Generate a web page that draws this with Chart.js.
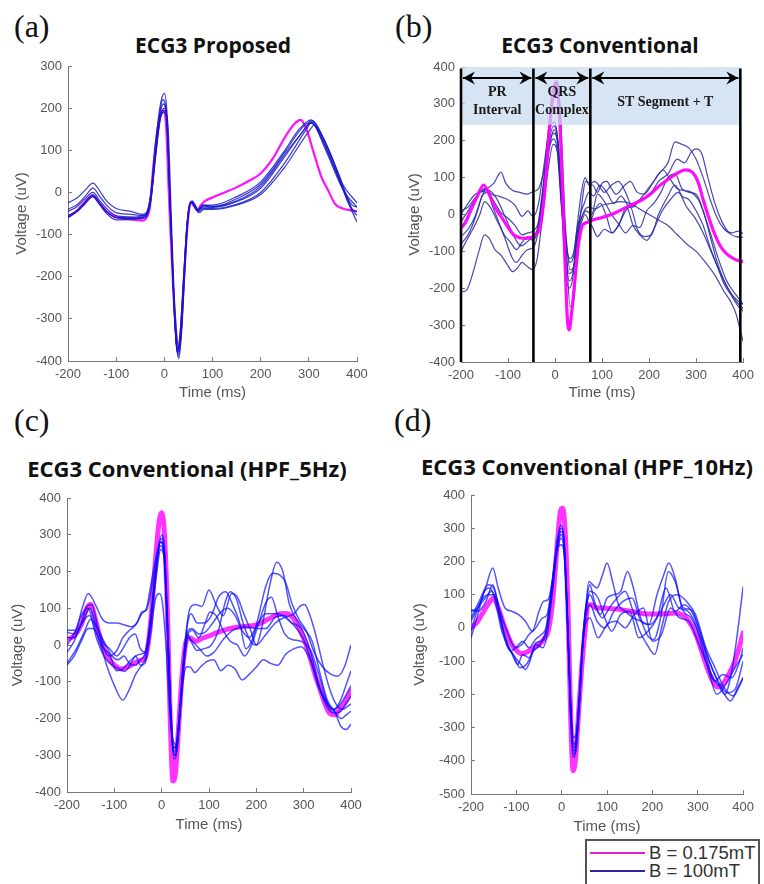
<!DOCTYPE html>
<html>
<head>
<meta charset="utf-8">
<script src="https://cdn.jsdelivr.net/npm/chart.js@4.4.1/dist/chart.umd.min.js"></script>
<style>
  html,body{margin:0;padding:0;background:#fff;}
  #wrap{position:relative;width:764px;height:884px;overflow:hidden;background:#fff;}
  canvas{position:absolute;}
  .plabel{position:absolute;font-family:"Liberation Serif","Times New Roman",serif;font-size:32px;line-height:32px;color:#111;white-space:nowrap;}
  .ttl{position:absolute;width:420px;text-align:center;font-family:"Open Sans",sans-serif;font-weight:700;font-size:21px;line-height:28px;color:#111;white-space:nowrap;}
  .ttl.big{font-size:22px;}
  .lgline{position:absolute;height:2px;}
  .lgtext{position:absolute;font-family:"Liberation Sans",Arial,sans-serif;font-size:18.5px;line-height:20px;color:#333;white-space:nowrap;}
</style>
</head>
<body>
<div id="wrap">
  <div class="plabel" style="left:14px;top:10px;">(a)</div>
  <div class="plabel" style="left:395px;top:10px;">(b)</div>
  <div class="plabel" style="left:14px;top:404px;">(c)</div>
  <div class="plabel" style="left:394px;top:404px;">(d)</div>

  <div class="ttl" style="left:3px;top:31px;">ECG3 Proposed</div>
  <div class="ttl" style="left:390px;top:31px;">ECG3 Conventional</div>
  <div class="ttl big" style="left:-23px;top:454px;">ECG3 Conventional (HPF_5Hz)</div>
  <div class="ttl big" style="left:377px;top:452px;">ECG3 Conventional (HPF_10Hz)</div>

  <canvas id="cA" width="382" height="404" style="left:0;top:0;"></canvas>
  <canvas id="cB" width="382" height="404" style="left:382px;top:0;"></canvas>
  <canvas id="cC" width="382" height="440" style="left:0;top:400px;"></canvas>
  <canvas id="cD" width="382" height="440" style="left:382px;top:400px;"></canvas>

  <div style="position:absolute;left:585px;top:839px;width:175px;height:60px;border:2px solid #555;background:#fff;box-sizing:border-box;"></div>
  <div class="lgline" style="left:590px;top:852px;width:55px;background:#dd22dd;"></div>
  <div class="lgline" style="left:590px;top:870px;width:55px;background:#2a2aa0;"></div>
  <div class="lgtext" style="left:649px;top:843px;">B = 0.175mT</div>
  <div class="lgtext" style="left:649px;top:861px;">B = 100mT</div>
</div>

<script>
// ---------------- tick labels ----------------
const xTicks  = [-200, -100, 0, 100, 200, 300, 400];
const yTicksA = [-400, -300, -200, -100, 0, 100, 200, 300];
const yTicksB = [-400, -300, -200, -100, 0, 100, 200, 300, 400];
const yTicksC = [-400, -300, -200, -100, 0, 100, 200, 300, 400];
const yTicksD = [-500, -400, -300, -200, -100, 0, 100, 200, 300, 400];

// ---------------- (a) ECG3 Proposed : [time ms, voltage uV] ----------------
const aMagenta = [[-200,-58],[-180,-42],[-165,-22],[-150,-8],[-135,-25],[-120,-45],[-100,-58],[-80,-63],[-60,-65],[-45,-67],[-38,-62],[-30,-35],[-23,60],[-12,165],[-3,195],[3,170],[10,-20],[16,-170],[22,-300],[28,-378],[34,-330],[40,-220],[46,-110],[52,-35],[56,-25],[62,-33],[68,-42],[76,-30],[85,-20],[100,-12],[125,0],[150,12],[175,27],[200,45],[225,80],[250,130],[268,160],[283,172],[295,150],[310,95],[325,40],[340,5],[355,-28],[370,-38],[385,-42],[400,-45]];
const aBlue1 = [[-200,-25],[-180,-12],[-165,5],[-148,22],[-135,5],[-120,-20],[-100,-38],[-70,-45],[-45,-52],[-36,-45],[-28,0],[-18,120],[-8,210],[0,235],[6,180],[12,-20],[18,-200],[24,-340],[30,-395],[36,-330],[42,-200],[48,-80],[54,-25],[58,-20],[64,-30],[70,-40],[80,-30],[100,-30],[150,-10],[200,25],[250,100],[280,150],[305,172],[320,150],[345,90],[370,20],[400,-25]];
const aBlue2 = [[-200,-40],[-180,-28],[-165,-10],[-148,10],[-135,-8],[-120,-30],[-100,-48],[-70,-52],[-45,-55],[-36,-48],[-28,-5],[-18,110],[-8,200],[-3,220],[4,190],[11,0],[17,-180],[23,-330],[28,-385],[34,-340],[40,-210],[47,-80],[53,-28],[57,-22],[63,-32],[70,-42],[80,-32],[100,-35],[150,-15],[200,20],[250,95],[280,145],[300,165],[312,160],[345,80],[375,0],[400,-35]];
const aBlue3 = [[-200,-45],[-180,-33],[-165,-15],[-148,0],[-135,-18],[-120,-38],[-100,-55],[-70,-58],[-45,-60],[-36,-52],[-28,-15],[-18,100],[-8,190],[-2,210],[5,175],[12,-20],[18,-200],[24,-340],[29,-390],[35,-335],[41,-200],[48,-70],[54,-25],[58,-22],[64,-32],[70,-44],[80,-35],[100,-35],[150,-22],[200,10],[250,85],[295,155],[305,165],[330,120],[360,40],[390,-40],[400,-45]];
const aBlue4 = [[-200,-55],[-180,-42],[-165,-25],[-148,-8],[-135,-25],[-120,-45],[-100,-60],[-70,-62],[-45,-62],[-36,-55],[-28,-20],[-18,90],[-8,180],[0,200],[6,160],[12,-30],[18,-220],[23,-330],[27,-380],[33,-340],[40,-210],[47,-80],[53,-28],[57,-24],[63,-35],[70,-46],[80,-38],[100,-38],[150,-28],[200,0],[250,70],[295,150],[308,170],[330,130],[360,50],[390,-40],[400,-55]];
const aBlue5 = [[-200,-60],[-180,-45],[-165,-28],[-148,-10],[-135,-28],[-120,-50],[-100,-65],[-70,-64],[-45,-58],[-36,-50],[-28,-18],[-18,85],[-8,175],[2,195],[8,150],[14,-40],[20,-230],[26,-340],[30,-370],[36,-320],[42,-190],[49,-60],[55,-25],[59,-24],[65,-35],[72,-48],[82,-40],[100,-40],[150,-30],[200,-5],[250,60],[300,145],[312,160],[325,140],[355,60],[380,-20],[400,-70]];
const aBlue6 = [[-200,-58],[-180,-43],[-165,-24],[-148,-5],[-135,-24],[-120,-45],[-100,-60],[-70,-60],[-45,-55],[-36,-48],[-28,-12],[-18,95],[-8,180],[0,190],[6,150],[12,-30],[18,-210],[23,-330],[27,-375],[33,-330],[40,-200],[47,-75],[53,-26],[57,-22],[63,-32],[70,-42],[80,-30],[100,-33],[150,-20],[200,15],[250,90],[297,160],[303,170],[335,100],[365,20],[390,-30],[400,-35]];
const aBlues = [aBlue1, aBlue2, aBlue3, aBlue4, aBlue5, aBlue6];

// ---------------- (b) ECG3 Conventional ----------------
const bMagenta = [[-200,-37],[-190,-20],[-178,15],[-165,50],[-152,80],[-140,55],[-128,20],[-115,-5],[-100,-35],[-88,-55],[-75,-63],[-62,-65],[-50,-62],[-40,-55],[-32,-35],[-22,60],[-12,230],[-3,340],[3,360],[9,280],[15,100],[21,-120],[26,-280],[30,-313],[35,-270],[42,-180],[50,-80],[58,-30],[68,-22],[80,-15],[100,-8],[120,0],[140,12],[162,26],[185,40],[204,57],[222,78],[240,95],[260,112],[277,121],[294,112],[305,85],[315,40],[326,-5],[336,-42],[347,-75],[357,-96],[370,-112],[385,-123],[400,-128]];
const bBlue1 = [[-200,10],[-185,20],[-170,45],[-160,60],[-145,70],[-130,85],[-115,115],[-105,85],[-90,65],[-75,60],[-60,55],[-47,62],[-35,70],[-25,110],[-12,190],[-2,230],[6,180],[14,40],[22,-60],[32,-130],[40,-110],[48,-20],[56,60],[64,100],[72,80],[80,80],[90,60],[100,85],[110,90],[120,70],[130,55],[145,75],[160,90],[175,60],[190,55],[205,80],[220,110],[240,140],[255,197],[270,190],[285,180],[300,150],[315,100],[330,40],[345,-10],[360,-40],[375,-50],[390,-45],[400,-52]];
const bBlue2 = [[-200,-20],[-185,10],[-170,40],[-158,65],[-148,70],[-135,55],[-120,50],[-100,40],[-85,25],[-70,-5],[-58,10],[-47,-5],[-35,30],[-25,120],[-12,230],[-2,250],[6,200],[14,20],[22,-150],[30,-200],[38,-170],[46,-60],[54,0],[62,30],[72,60],[82,50],[95,80],[110,60],[125,30],[140,50],[160,20],[180,40],[200,50],[220,90],[240,110],[260,150],[275,140],[290,170],[300,178],[312,165],[325,100],[340,30],[355,-20],[370,-50],[385,-60],[400,-62]];
const bBlue3 = [[-200,-60],[-185,-40],[-170,-5],[-155,50],[-145,60],[-130,35],[-115,5],[-100,-10],[-85,-30],[-70,-55],[-58,-50],[-47,-45],[-35,-20],[-25,60],[-12,180],[-3,205],[5,170],[13,30],[22,-80],[32,-120],[40,-100],[48,-30],[56,-10],[66,10],[78,0],[90,55],[105,35],[120,0],[135,-25],[150,-50],[165,-30],[180,-35],[195,10],[210,30],[225,60],[240,100],[255,110],[270,70],[285,60],[300,55],[315,10],[330,-60],[345,-130],[360,-180],[375,-215],[390,-235],[400,-242]];
const bBlue4 = [[-200,-80],[-185,-55],[-170,-10],[-155,50],[-146,72],[-135,30],[-120,-20],[-105,-70],[-92,-115],[-82,-130],[-70,-110],[-58,-95],[-47,-90],[-38,-60],[-28,40],[-15,220],[-3,330],[5,360],[12,260],[18,80],[25,-120],[32,-250],[40,-230],[48,-100],[56,-40],[66,-20],[78,-30],[90,-60],[105,-40],[120,-50],[135,-30],[150,10],[160,20],[175,-40],[190,-60],[205,-55],[220,0],[240,50],[255,80],[270,50],[285,40],[300,10],[315,-30],[330,-90],[345,-140],[360,-190],[375,-220],[390,-250],[400,-262]];
const bBlue5 = [[-200,-210],[-188,-205],[-175,-160],[-162,-100],[-150,-55],[-140,-65],[-128,-95],[-115,-110],[-102,-135],[-90,-155],[-80,-145],[-70,-130],[-60,-140],[-48,-150],[-38,-120],[-28,-20],[-15,120],[-4,190],[5,170],[12,60],[20,-60],[30,-160],[38,-150],[46,-80],[54,-20],[62,10],[72,20],[85,15],[100,25],[120,30],[140,35],[160,30],[180,15],[200,0],[220,-15],[240,-30],[260,-55],[280,-80],[300,-100],[320,-130],[340,-165],[360,-210],[375,-240],[385,-270],[393,-310],[400,-345]];
const bBlue6 = [[-200,0],[-185,30],[-170,55],[-155,62],[-140,65],[-125,45],[-110,5],[-98,-30],[-85,-65],[-72,-85],[-60,-75],[-48,-60],[-38,-40],[-28,50],[-15,170],[-3,220],[6,200],[14,70],[22,-40],[32,-150],[40,-140],[48,-60],[56,20],[65,90],[75,85],[85,90],[95,75],[105,60],[120,80],[135,90],[150,60],[165,20],[180,40],[195,65],[210,90],[230,120],[245,95],[260,70],[275,65],[290,60],[305,40],[320,-10],[335,-70],[350,-130],[365,-180],[380,-210],[392,-230],[400,-245]];
const bBlue7 = [[-200,-100],[-188,-70],[-175,-40],[-160,0],[-150,35],[-138,20],[-122,-20],[-108,-55],[-95,-75],[-82,-95],[-70,-75],[-58,-60],[-48,-70],[-38,-50],[-28,30],[-15,180],[-3,240],[5,210],[13,50],[21,-90],[30,-180],[38,-160],[46,-70],[54,-30],[64,0],[74,-20],[84,10],[96,30],[108,0],[122,-50],[138,-20],[152,20],[166,-30],[180,-55],[195,-70],[210,-40],[228,10],[245,40],[262,60],[280,20],[298,-10],[315,-50],[335,-110],[355,-170],[372,-210],[388,-240],[400,-255]];
const bBlues = [bBlue1, bBlue2, bBlue3, bBlue4, bBlue5, bBlue6, bBlue7];
// (b) segment annotations
const bSegBounds = [-200, -46, 75, 394];
const bSegLabels = [["PR", "Interval"], ["QRS", "Complex"], ["ST Segment + T"]];

// ---------------- (c) ECG3 Conventional (HPF_5Hz) ----------------
const cMagenta = [[-200,15],[-185,25],[-170,55],[-158,100],[-150,110],[-140,70],[-128,10],[-115,-30],[-100,-55],[-85,-65],[-72,-60],[-58,-50],[-45,-42],[-35,-35],[-25,40],[-15,200],[-6,330],[0,360],[6,300],[12,100],[18,-200],[24,-370],[29,-350],[35,-240],[42,-100],[50,0],[56,20],[62,18],[72,10],[85,18],[100,25],[120,35],[145,45],[170,50],[200,55],[225,70],[250,85],[265,86],[280,70],[292,41],[304,5],[313,-32],[324,-80],[335,-122],[345,-160],[355,-186],[365,-190],[375,-178],[388,-155],[400,-125]];
const cBlue1 = [[-200,40],[-182,40],[-168,100],[-155,140],[-140,110],[-125,70],[-110,60],[-95,60],[-80,55],[-65,50],[-52,60],[-42,90],[-32,95],[-22,150],[-10,240],[0,300],[6,260],[12,80],[18,-150],[25,-290],[30,-300],[36,-230],[44,-80],[52,40],[60,100],[72,110],[85,105],[100,150],[115,110],[130,80],[148,140],[160,130],[175,80],[188,40],[200,0],[212,50],[228,160],[243,225],[256,200],[270,110],[285,70],[300,45],[318,10],[335,-80],[350,-150],[365,-180],[380,-200],[390,-190],[400,-180]];
const cBlue2 = [[-200,-55],[-185,-30],[-170,10],[-155,45],[-145,45],[-130,5],[-115,-60],[-100,-110],[-82,-150],[-68,-120],[-55,-80],[-45,-60],[-35,-40],[-25,20],[-12,130],[-4,140],[3,100],[10,-20],[17,-180],[24,-260],[30,-270],[37,-200],[45,-100],[52,-60],[60,-60],[70,-75],[82,-60],[95,-45],[110,-40],[125,-70],[140,-55],[155,-65],[170,-95],[185,-80],[200,-60],[215,-40],[230,-50],[245,-55],[262,-25],[280,-10],[295,-5],[308,-25],[320,-60],[335,-120],[350,-160],[365,-180],[378,-220],[390,-230],[400,-215]];
const cBlue3 = [[-200,20],[-185,20],[-170,60],[-158,105],[-148,110],[-135,50],[-122,-10],[-110,-30],[-95,-15],[-82,20],[-68,40],[-55,55],[-42,85],[-32,100],[-22,170],[-10,250],[-1,290],[6,250],[13,40],[20,-200],[26,-290],[32,-270],[40,-150],[48,-20],[55,60],[62,85],[75,60],[90,60],[105,80],[120,130],[135,145],[150,110],[165,60],[178,-10],[190,10],[205,80],[220,160],[235,195],[250,190],[262,170],[276,110],[290,70],[305,40],[322,-20],[340,-60],[358,-80],[372,-85],[386,-60],[400,0]];
const cBlue4 = [[-200,-20],[-185,10],[-168,60],[-152,80],[-138,20],[-122,-30],[-105,-55],[-90,-65],[-78,-72],[-65,-50],[-55,-30],[-45,-55],[-35,-50],[-25,30],[-12,200],[-2,270],[5,240],[12,40],[19,-200],[26,-300],[32,-280],[40,-160],[48,-30],[56,40],[64,45],[78,30],[92,35],[108,60],[125,90],[140,100],[155,80],[170,40],[185,20],[200,50],[220,85],[245,85],[265,70],[285,45],[300,15],[315,-40],[330,-110],[345,-150],[360,-175],[375,-165],[388,-140],[400,-110]];
const cBlue5 = [[-200,35],[-185,30],[-168,60],[-152,100],[-140,60],[-125,10],[-110,-10],[-95,-30],[-82,-10],[-68,20],[-56,30],[-45,-10],[-35,-20],[-25,60],[-12,210],[-2,280],[5,250],[12,60],[19,-180],[25,-280],[31,-270],[38,-180],[46,-40],[54,30],[62,10],[75,-15],[90,-10],[105,0],[120,40],[135,120],[145,145],[158,125],[172,60],[188,10],[200,0],[218,25],[240,60],[260,75],[280,85],[292,105],[302,110],[312,85],[325,30],[340,-50],[355,-120],[368,-160],[382,-175],[395,-165],[400,-160]];
const cBlue6 = [[-200,-50],[-180,-10],[-162,40],[-150,70],[-138,50],[-120,5],[-105,-30],[-92,-40],[-80,-30],[-68,-50],[-55,-55],[-45,-40],[-35,-25],[-25,40],[-12,180],[-2,260],[5,240],[12,50],[19,-190],[26,-310],[32,-290],[40,-170],[48,-40],[56,30],[65,40],[78,20],[92,60],[102,90],[115,80],[130,40],[145,10],[160,0],[175,-30],[190,0],[205,60],[222,120],[232,130],[245,80],[260,30],[275,15],[295,10],[315,-15],[332,-80],[348,-150],[362,-180],[378,-150],[392,-100],[400,-70]];
const cBlue7 = [[-200,0],[-185,30],[-170,80],[-156,100],[-142,50],[-125,-5],[-110,-25],[-96,-70],[-82,-65],[-68,-45],[-55,-30],[-45,-25],[-35,-20],[-25,50],[-12,210],[-2,280],[5,260],[12,60],[19,-170],[26,-280],[32,-270],[40,-160],[48,-40],[56,20],[65,10],[80,-10],[95,-30],[110,-20],[130,15],[150,40],[175,50],[200,45],[220,45],[240,75],[258,80],[275,60],[295,45],[315,-20],[332,-110],[348,-165],[363,-185],[378,-180],[392,-155],[400,-140]];
const cBlues = [cBlue1, cBlue2, cBlue3, cBlue4, cBlue5, cBlue6, cBlue7];

// ---------------- (d) ECG3 Conventional (HPF_10Hz) ----------------
const dMagenta = [[-200,0],[-185,20],[-170,55],[-158,80],[-150,90],[-140,60],[-125,0],[-110,-50],[-98,-70],[-88,-78],[-75,-72],[-62,-60],[-50,-50],[-40,-35],[-30,-10],[-20,80],[-10,250],[-3,350],[2,360],[8,280],[14,50],[20,-280],[25,-430],[30,-400],[36,-280],[44,-120],[52,0],[58,70],[65,70],[75,60],[90,60],[110,58],[130,55],[160,48],[190,42],[220,42],[250,45],[270,35],[285,10],[300,-35],[312,-85],[322,-125],[333,-160],[343,-178],[355,-170],[368,-140],[382,-100],[392,-55],[400,-15]];
const dBlue1 = [[-200,50],[-185,60],[-168,120],[-152,180],[-140,120],[-125,60],[-110,50],[-95,40],[-80,20],[-65,-10],[-50,50],[-40,80],[-30,85],[-20,150],[-10,260],[-2,310],[5,260],[12,40],[19,-250],[25,-390],[31,-370],[38,-250],[46,-60],[53,60],[60,140],[68,130],[78,120],[90,160],[100,195],[112,140],[125,70],[140,50],[158,30],[175,20],[192,10],[210,100],[225,160],[236,195],[250,150],[265,60],[285,30],[300,-10],[320,-80],[340,-150],[360,-200],[372,-150],[385,-40],[400,125]];
const dBlue2 = [[-200,-30],[-185,40],[-172,105],[-160,120],[-150,100],[-132,-10],[-117,-60],[-102,-90],[-90,-110],[-80,-125],[-70,-100],[-57,-45],[-45,-40],[-35,-20],[-22,110],[-10,260],[-1,300],[6,250],[13,20],[20,-270],[26,-380],[32,-360],[39,-230],[47,-40],[54,70],[62,130],[72,80],[85,40],[100,90],[115,100],[130,110],[145,170],[158,120],[172,40],[188,-20],[203,-35],[218,30],[235,170],[250,140],[268,60],[285,55],[305,-10],[325,-100],[345,-160],[365,-195],[382,-185],[400,-100]];
const dBlue3 = [[-200,20],[-185,60],[-168,90],[-155,110],[-140,60],[-126,-20],[-112,-70],[-98,-55],[-86,-40],[-72,-60],[-58,-35],[-45,-20],[-35,0],[-22,120],[-10,250],[-1,290],[6,240],[13,20],[20,-260],[26,-370],[32,-350],[39,-220],[47,-30],[54,60],[62,100],[75,60],[90,30],[105,60],[122,90],[140,110],[155,60],[172,-10],[188,-50],[205,-80],[220,0],[236,80],[255,100],[275,80],[295,40],[318,-60],[338,-120],[358,-180],[378,-205],[392,-175],[400,-150]];
const dBlue4 = [[-200,30],[-182,80],[-162,130],[-150,120],[-136,40],[-122,-50],[-107,-80],[-92,-120],[-78,-110],[-62,-70],[-48,-50],[-35,-10],[-22,100],[-10,240],[-1,280],[6,230],[13,20],[20,-250],[26,-360],[32,-340],[39,-210],[47,-40],[54,40],[62,70],[78,20],[95,0],[115,50],[135,80],[155,90],[175,20],[195,10],[218,50],[240,100],[258,60],[278,50],[298,0],[318,-100],[338,-160],[355,-140],[375,-150],[390,-110],[400,-60]];
const dBlue5 = [[-200,-10],[-182,70],[-162,100],[-148,100],[-132,0],[-112,-70],[-97,-110],[-86,-80],[-72,-90],[-57,-50],[-42,-60],[-32,-20],[-22,90],[-10,230],[-1,270],[6,220],[13,10],[20,-240],[26,-350],[32,-330],[39,-200],[47,-40],[54,20],[62,30],[80,-30],[100,10],[120,20],[140,0],[160,40],[180,60],[200,-40],[220,-20],[240,60],[260,30],[280,20],[300,-40],[320,-110],[342,-200],[362,-170],[382,-120],[400,-80]];
const dBlue6 = [[-200,55],[-185,50],[-167,80],[-152,130],[-138,60],[-118,-20],[-102,-60],[-88,-50],[-72,-20],[-57,0],[-42,30],[-32,40],[-22,130],[-10,240],[-1,250],[6,210],[13,10],[20,-230],[26,-330],[32,-320],[39,-200],[47,-20],[54,60],[62,110],[80,90],[95,30],[110,-10],[130,40],[150,50],[170,-30],[190,-10],[210,30],[230,120],[250,50],[270,70],[290,40],[310,-40],[330,-140],[350,-180],[372,-220],[388,-180],[400,-150]];
const dBlues = [dBlue1, dBlue2, dBlue3, dBlue4, dBlue5, dBlue6];

// ---------------- helpers ----------------
const toXY = arr => arr.map(p => ({x: p[0], y: p[1]}));
const SANS = '"Liberation Sans", Arial, sans-serif';

function makePanel(cfg) {
  const cv = document.getElementById(cfg.id);
  const W = cv.width, H = cv.height;
  const titleSize = 15, titleLH = titleSize * 1.2;
  const datasets = [];
  cfg.blues.forEach(tr => datasets.push({
    data: toXY(tr), borderColor: cfg.blueColor, borderWidth: cfg.blueWidth,
    pointRadius: 0, fill: false, cubicInterpolationMode: 'monotone', order: 1
  }));
  datasets.push({
    data: toXY(cfg.magenta), borderColor: cfg.magColor, borderWidth: cfg.magWidth,
    pointRadius: 0, fill: false, cubicInterpolationMode: 'monotone',
    order: cfg.magOnTop ? 0 : 2, borderCapStyle: 'round', borderJoinStyle: 'round'
  });
  const axisCommon = {
    grid: {drawOnChartArea: false, drawTicks: true, tickLength: -4, color: '#777', lineWidth: 1},
    border: {display: true, color: '#777', width: 1}
  };
  return new Chart(cv, {
    type: 'line',
    data: {datasets},
    options: {
      responsive: false, animation: false, devicePixelRatio: 1,
      layout: {autoPadding: false, padding: {left: 0, top: cfg.plot.t, right: W - cfg.plot.r, bottom: 0}},
      plugins: {legend: {display: false}, tooltip: {enabled: false}, title: {display: false}},
      scales: {
        x: Object.assign({}, axisCommon, {
          type: 'linear', min: -200, max: 400,
          afterBuildTicks: s => { s.ticks = xTicks.map(v => ({value: v})); },
          afterFit: s => { s.height = H - cfg.plot.b; },
          ticks: {padding: 10, color: '#555', font: {family: SANS, size: 13}, maxRotation: 0, autoSkip: false},
          title: {display: true, text: 'Time (ms)', color: '#555', font: {family: SANS, size: titleSize},
                  padding: {top: 0, bottom: H - cfg.xTitleY - titleLH / 2}}
        }),
        y: Object.assign({}, axisCommon, {
          type: 'linear', min: cfg.yTicks[0], max: cfg.yTicks[cfg.yTicks.length - 1],
          afterBuildTicks: s => { s.ticks = cfg.yTicks.map(v => ({value: v})); },
          afterFit: s => { s.width = cfg.plot.l; },
          ticks: {padding: 10, color: '#555', font: {family: SANS, size: 13}, autoSkip: false},
          title: {display: true, text: 'Voltage (uV)', color: '#555', font: {family: SANS, size: titleSize},
                  padding: {top: cfg.yTitleX - titleLH / 2, bottom: 0}}
        })
      }
    },
    plugins: cfg.plugins || []
  });
}

// annotation plugin for panel (b): shaded band, segment boundaries, arrows, labels
const segmentPlugin = {
  id: 'segments',
  afterDatasetsDraw(chart) {
    const ctx = chart.ctx, xs = chart.scales.x, ys = chart.scales.y;
    const xb = bSegBounds.map(v => xs.getPixelForValue(v));
    ctx.save();
    const yTop = ys.getPixelForValue(400), yBot = ys.getPixelForValue(243);
    ctx.fillStyle = 'rgba(200,218,238,0.72)';
    ctx.fillRect(xb[0], yTop, xb[3] - xb[0], yBot - yTop);
    ctx.strokeStyle = '#000'; ctx.lineWidth = 2.6;
    const lTop = ys.getPixelForValue(396), lBot = ys.getPixelForValue(-400);
    xb.forEach(x => { ctx.beginPath(); ctx.moveTo(x, lTop); ctx.lineTo(x, lBot); ctx.stroke(); });
    const ya = ys.getPixelForValue(370);
    ctx.lineWidth = 2;
    for (let i = 0; i < 3; i++) {
      const x1 = xb[i] + 2, x2 = xb[i + 1] - 2;
      ctx.beginPath(); ctx.moveTo(x1, ya); ctx.lineTo(x2, ya); ctx.stroke();
      ctx.fillStyle = '#000';
      [[x1, 1], [x2, -1]].forEach(([x, d]) => {
        ctx.beginPath();
        ctx.moveTo(x, ya);
        ctx.lineTo(x + d * 12, ya - 6.5);
        ctx.lineTo(x + d * 8, ya);
        ctx.lineTo(x + d * 12, ya + 6.5);
        ctx.closePath(); ctx.fill();
      });
    }
    ctx.fillStyle = '#1a1a1a';
    ctx.font = 'bold 14px "Liberation Serif", "Times New Roman", serif';
    ctx.textAlign = 'center'; ctx.textBaseline = 'middle';
    for (let i = 0; i < 3; i++) {
      const cx = (xb[i] + xb[i + 1]) / 2;
      const lines = bSegLabels[i];
      if (lines.length === 2) {
        ctx.fillText(lines[0], cx, ys.getPixelForValue(332));
        ctx.fillText(lines[1], cx, ys.getPixelForValue(281));
      } else {
        ctx.fillText(lines[0], cx, ys.getPixelForValue(305));
      }
    }
    ctx.restore();
  }
};

makePanel({id: 'cA', plot: {l: 68, t: 66, r: 357, b: 361}, xTitleY: 393, yTitleX: 22, yTicks: yTicksA,
  blues: aBlues, magenta: aMagenta, blueColor: 'rgba(25,25,200,0.85)', blueWidth: 1.2,
  magColor: '#ff10ff', magWidth: 2.2, magOnTop: false});
makePanel({id: 'cB', plot: {l: 79, t: 67, r: 367, b: 362}, xTitleY: 393, yTitleX: 33, yTicks: yTicksB,
  blues: bBlues, magenta: bMagenta, blueColor: 'rgba(40,40,160,0.85)', blueWidth: 1.2,
  magColor: 'rgba(255,0,255,0.95)', magWidth: 3.2, magOnTop: true, plugins: [segmentPlugin]});
makePanel({id: 'cC', plot: {l: 67, t: 98, r: 351, b: 392}, xTitleY: 425, yTitleX: 18, yTicks: yTicksC,
  blues: cBlues, magenta: cMagenta, blueColor: 'rgba(10,10,255,0.7)', blueWidth: 1.5,
  magColor: 'rgba(255,0,255,0.8)', magWidth: 5, magOnTop: false});
makePanel({id: 'cD', plot: {l: 89, t: 95, r: 370, b: 394}, xTitleY: 427, yTitleX: 38, yTicks: yTicksD,
  blues: dBlues, magenta: dMagenta, blueColor: 'rgba(10,10,255,0.7)', blueWidth: 1.5,
  magColor: 'rgba(255,0,255,0.8)', magWidth: 5, magOnTop: false});
</script>
</body>
</html>
